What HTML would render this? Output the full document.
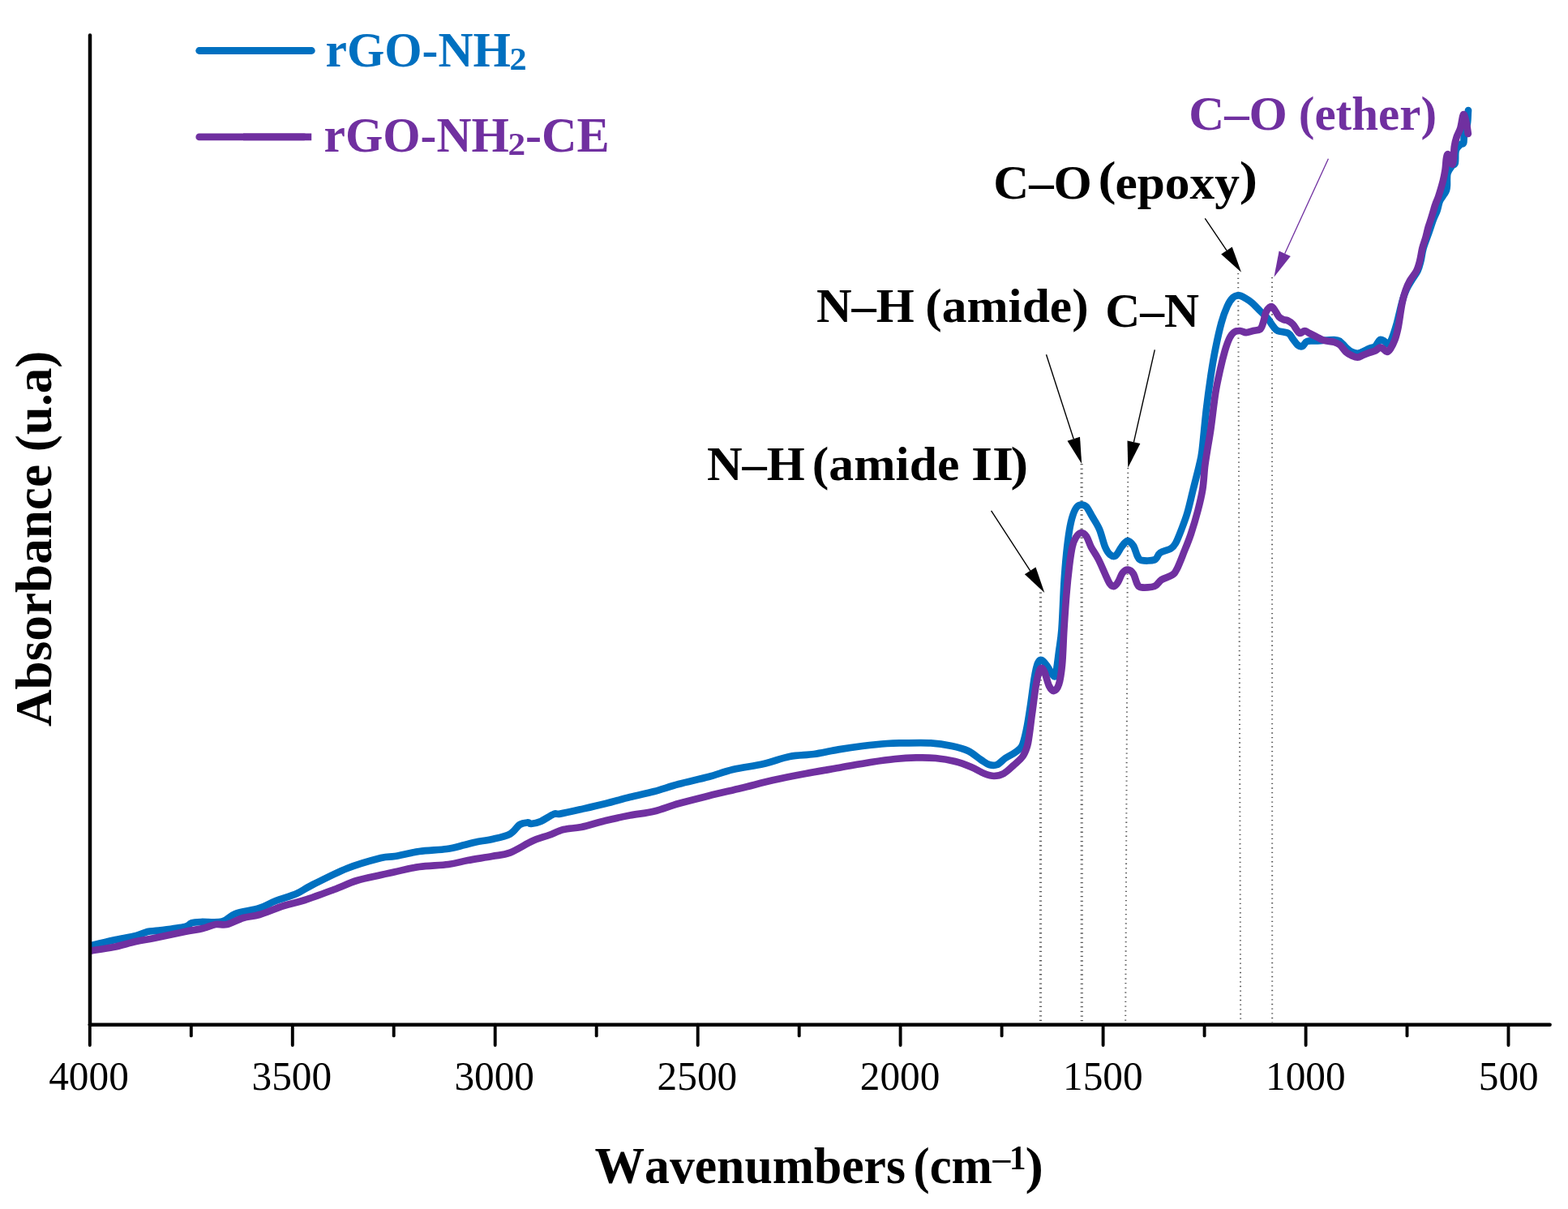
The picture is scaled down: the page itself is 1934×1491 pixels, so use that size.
<!DOCTYPE html>
<html lang="en"><head><meta charset="utf-8"><title>FTIR spectra</title>
<style>
html,body{margin:0;padding:0;background:#fff;}
body{width:1934px;height:1491px;overflow:hidden;}
svg{display:block;}
text{font-family:"Liberation Serif",serif;font-kerning:none;white-space:pre;}
</style></head><body>
<svg width="1934" height="1491" viewBox="0 0 1934 1491">
<rect width="1934" height="1491" fill="#fff"/>

<g stroke="#5a5a5a" fill="none" stroke-dasharray="1.3 4.37">
<line x1="1283.5" y1="730.5" x2="1283.5" y2="1261" stroke-width="3.2"/>
<line x1="1334.1" y1="572" x2="1334.3" y2="1261" stroke-width="3.2"/>
<line x1="1391.3" y1="577" x2="1388.2" y2="1261" stroke-width="2.0"/>
<line x1="1527.2" y1="337" x2="1530.2" y2="1261" stroke-width="2.0"/>
<line x1="1569.0" y1="342" x2="1569.2" y2="1261" stroke-width="2.0"/>
</g>
<clipPath id="plot"><rect x="110.8" y="0" width="1830" height="1262"/></clipPath>
<g clip-path="url(#plot)">
<path d="M110.8,1166.5C111.2,1166.4 108.1,1167.2 113.0,1166.0C117.9,1164.8 130.8,1161.6 140.0,1159.6C149.2,1157.6 161.0,1155.8 168.0,1154.0C175.0,1152.2 177.3,1150.1 182.0,1149.0C186.7,1147.9 188.3,1148.6 196.0,1147.6C203.7,1146.6 221.3,1144.5 228.0,1143.0C234.7,1141.5 232.7,1139.4 236.0,1138.4C239.3,1137.4 241.7,1137.3 248.0,1137.0C254.3,1136.7 267.0,1138.3 274.0,1136.6C281.0,1134.9 282.3,1129.8 290.0,1127.0C297.7,1124.2 311.7,1122.7 320.0,1120.0C328.3,1117.3 332.3,1114.0 340.0,1111.0C347.7,1108.0 358.7,1105.2 366.0,1102.0C373.3,1098.8 373.7,1097.2 384.0,1092.0C394.3,1086.8 413.7,1076.7 428.0,1071.0C442.3,1065.3 460.2,1060.5 470.0,1058.0C479.8,1055.5 479.2,1057.3 487.0,1056.0C494.8,1054.7 506.3,1051.5 517.0,1050.0C527.7,1048.5 541.7,1048.3 551.0,1047.0C560.3,1045.7 567.0,1043.4 573.0,1042.0C579.0,1040.6 581.3,1039.6 587.0,1038.4C592.7,1037.2 600.0,1036.6 607.0,1035.0C614.0,1033.4 623.3,1031.6 629.0,1028.6C634.7,1025.6 637.3,1019.4 641.0,1017.0C644.7,1014.6 648.7,1014.6 651.0,1014.4C653.3,1014.2 652.3,1016.2 655.0,1016.0C657.7,1015.8 662.3,1015.0 667.0,1013.0C671.7,1011.0 679.0,1005.6 683.0,1004.0C687.0,1002.4 685.3,1004.6 691.0,1003.6C696.7,1002.6 707.7,1000.1 717.0,998.0C726.3,995.9 737.0,993.5 747.0,991.0C757.0,988.5 767.0,985.5 777.0,983.0C787.0,980.5 797.0,978.7 807.0,976.0C817.0,973.3 825.8,970.0 837.0,967.0C848.2,964.0 862.8,961.0 874.0,958.0C885.2,955.0 892.7,951.7 904.0,949.0C915.3,946.3 930.3,944.7 942.0,942.0C953.7,939.3 963.7,935.0 974.0,933.0C984.3,931.0 994.0,931.4 1004.0,930.0C1014.0,928.6 1024.0,926.1 1034.0,924.4C1044.0,922.7 1054.0,921.2 1064.0,920.0C1074.0,918.8 1085.7,917.6 1094.0,917.0C1102.3,916.4 1105.0,916.5 1114.0,916.4C1123.0,916.3 1138.0,915.8 1148.0,916.4C1158.0,917.0 1166.3,918.4 1174.0,920.0C1181.7,921.6 1188.0,923.2 1194.0,926.0C1200.0,928.8 1205.7,934.2 1210.0,937.0C1214.3,939.8 1216.7,942.0 1220.0,943.0C1223.3,944.0 1226.7,944.3 1230.0,943.0C1233.3,941.7 1236.3,937.5 1240.0,935.0C1243.7,932.5 1248.6,930.5 1252.0,928.0C1255.4,925.5 1258.2,924.7 1260.5,920.0C1262.8,915.3 1264.2,908.3 1266.0,900.0C1267.8,891.7 1269.4,880.7 1271.0,870.0C1272.6,859.3 1274.3,844.7 1275.8,836.0C1277.3,827.3 1278.5,821.7 1280.0,818.0C1281.5,814.3 1283.0,813.3 1285.0,814.0C1287.0,814.7 1289.8,819.0 1292.0,822.0C1294.2,825.0 1296.3,830.3 1298.0,832.0C1299.7,833.7 1300.7,836.7 1302.0,832.0C1303.3,827.3 1304.8,813.3 1306.0,804.0C1307.2,794.7 1308.4,790.1 1309.5,776.0C1310.6,761.9 1311.4,734.8 1312.4,719.3C1313.4,703.8 1314.2,693.9 1315.3,683.0C1316.4,672.1 1317.7,662.0 1319.0,654.0C1320.3,646.0 1321.7,640.1 1323.3,635.3C1324.9,630.5 1326.6,627.1 1328.4,625.0C1330.2,622.9 1332.1,622.6 1334.0,622.6C1335.9,622.6 1337.8,622.6 1340.0,625.0C1342.2,627.4 1344.3,632.2 1347.0,636.8C1349.7,641.4 1353.3,646.4 1356.0,652.7C1358.7,659.0 1360.8,669.2 1363.0,674.4C1365.2,679.6 1366.8,682.0 1369.0,683.8C1371.2,685.6 1373.6,686.9 1376.0,685.3C1378.4,683.7 1381.0,677.4 1383.4,674.4C1385.8,671.4 1388.2,667.4 1390.6,667.2C1393.0,667.0 1395.8,669.9 1397.9,673.0C1400.0,676.1 1401.3,683.0 1403.0,686.0C1404.7,689.0 1404.5,690.3 1408.0,691.0C1411.5,691.7 1420.2,691.9 1424.0,690.4C1427.8,688.9 1427.7,684.0 1431.0,681.7C1434.3,679.4 1440.8,678.6 1444.0,676.6C1447.2,674.6 1447.8,674.0 1450.0,670.0C1452.2,666.0 1454.9,659.0 1457.3,652.7C1459.7,646.4 1462.1,640.6 1464.5,632.4C1466.9,624.2 1469.3,613.1 1471.7,603.5C1474.1,593.9 1477.2,582.4 1479.0,574.5C1480.8,566.6 1481.1,567.3 1482.6,556.0C1484.0,544.7 1485.9,522.1 1487.7,506.6C1489.5,491.1 1491.6,475.8 1493.5,463.0C1495.4,450.2 1497.0,440.6 1499.2,429.8C1501.4,419.0 1504.1,406.7 1506.5,398.0C1508.9,389.3 1511.3,382.9 1513.7,377.7C1516.1,372.5 1518.6,369.0 1521.0,366.8C1523.4,364.6 1525.8,364.2 1528.2,364.3C1530.6,364.4 1532.9,366.0 1535.5,367.5C1538.1,369.0 1540.9,370.6 1544.0,373.3C1547.1,376.0 1551.1,380.4 1554.3,383.5C1557.5,386.6 1560.3,388.9 1563.0,392.0C1565.7,395.1 1568.0,399.6 1570.2,402.3C1572.4,405.0 1572.9,406.6 1576.0,408.0C1579.1,409.4 1585.9,409.3 1589.0,411.0C1592.1,412.7 1592.9,415.8 1594.8,418.2C1596.7,420.6 1598.7,424.0 1600.6,425.5C1602.5,427.0 1604.5,427.8 1606.4,427.0C1608.3,426.2 1609.3,422.1 1612.2,421.0C1615.1,419.9 1618.2,420.7 1623.8,420.4C1629.3,420.1 1640.7,418.9 1645.5,419.0C1650.3,419.1 1650.4,419.4 1652.8,421.0C1655.2,422.6 1657.6,426.2 1660.0,428.4C1662.4,430.6 1664.6,432.8 1667.3,434.0C1670.0,435.2 1672.4,436.3 1676.0,435.6C1679.6,434.9 1685.6,431.2 1689.0,429.8C1692.4,428.4 1694.0,428.8 1696.2,427.0C1698.4,425.2 1700.1,420.0 1702.0,419.0C1703.9,418.0 1706.1,420.1 1707.8,421.0C1709.5,421.9 1710.8,425.2 1712.2,424.7C1713.7,424.2 1714.8,422.2 1716.5,418.2C1718.2,414.2 1720.6,406.6 1722.3,400.8C1724.0,395.0 1725.2,389.0 1726.6,383.5C1728.0,378.0 1729.2,372.5 1730.6,368.0C1732.0,363.5 1733.3,360.2 1735.0,356.5C1736.7,352.8 1738.7,349.8 1741.0,346.0C1743.3,342.2 1746.7,338.1 1748.6,334.0C1750.5,329.9 1751.3,326.1 1752.5,321.4C1753.7,316.7 1753.9,311.8 1755.6,306.0C1757.3,300.2 1760.4,292.6 1762.5,286.6C1764.6,280.6 1766.5,274.4 1768.2,270.0C1769.9,265.6 1771.2,263.7 1772.5,260.0C1773.8,256.3 1774.4,251.3 1775.8,248.0C1777.2,244.7 1779.6,242.2 1781.0,240.0C1782.4,237.8 1783.3,236.5 1784.0,234.5C1784.7,232.5 1784.7,231.4 1784.9,228.0C1785.1,224.6 1784.4,217.8 1785.4,213.9C1786.4,210.0 1789.4,206.7 1791.0,204.5C1792.6,202.3 1794.0,203.9 1794.8,200.8C1795.6,197.7 1794.6,189.5 1795.7,185.7C1796.8,181.9 1799.8,179.8 1801.4,178.2C1803.0,176.6 1804.3,178.2 1805.1,176.3C1805.9,174.4 1805.2,170.9 1806.0,167.0C1806.8,163.1 1809.0,157.6 1809.8,152.9C1810.6,148.2 1810.6,141.6 1810.8,138.8C1811.0,136.0 1811.0,136.5 1811.0,136.0" fill="none" stroke="#0070C0" stroke-width="8.7" stroke-linejoin="round" stroke-linecap="round"/>
<path d="M110.8,1172.8C111.2,1172.7 108.1,1173.2 113.0,1172.4C117.9,1171.6 130.8,1169.9 140.0,1168.0C149.2,1166.1 159.7,1162.8 168.0,1161.0C176.3,1159.2 180.0,1159.0 190.0,1157.0C200.0,1155.0 218.0,1151.0 228.0,1149.0C238.0,1147.0 243.7,1146.5 250.0,1145.0C256.3,1143.5 261.0,1140.8 266.0,1140.0C271.0,1139.2 274.3,1141.3 280.0,1140.0C285.7,1138.7 293.3,1134.0 300.0,1132.0C306.7,1130.0 311.7,1130.5 320.0,1128.0C328.3,1125.5 340.7,1120.0 350.0,1117.0C359.3,1114.0 365.7,1113.3 376.0,1110.0C386.3,1106.7 401.3,1101.0 412.0,1097.0C422.7,1093.0 430.3,1089.0 440.0,1086.0C449.7,1083.0 462.2,1080.8 470.0,1079.0C477.8,1077.2 479.2,1077.0 487.0,1075.3C494.8,1073.6 506.0,1070.5 517.0,1069.0C528.0,1067.5 543.0,1067.3 553.0,1066.0C563.0,1064.7 568.0,1062.7 577.0,1061.0C586.0,1059.3 598.3,1057.6 607.0,1056.0C615.7,1054.4 620.7,1054.8 629.0,1051.6C637.3,1048.4 649.0,1040.6 657.0,1037.0C665.0,1033.4 670.7,1032.3 677.0,1030.0C683.3,1027.7 688.3,1024.7 695.0,1023.0C701.7,1021.3 708.3,1021.8 717.0,1020.0C725.7,1018.2 737.0,1014.4 747.0,1012.0C757.0,1009.6 767.0,1007.5 777.0,1005.6C787.0,1003.7 797.0,1002.8 807.0,1000.4C817.0,998.0 825.8,994.1 837.0,991.0C848.2,987.9 861.2,984.7 874.0,981.5C886.8,978.3 900.7,975.2 914.0,972.0C927.3,968.8 940.7,965.0 954.0,962.0C967.3,959.0 980.7,956.5 994.0,954.0C1007.3,951.5 1020.7,949.3 1034.0,947.0C1047.3,944.7 1062.3,941.8 1074.0,940.0C1085.7,938.2 1094.7,936.9 1104.0,936.0C1113.3,935.1 1121.7,934.6 1130.0,934.4C1138.3,934.2 1146.0,934.2 1154.0,935.0C1162.0,935.8 1170.7,937.2 1178.0,939.0C1185.3,940.8 1192.0,943.5 1198.0,946.0C1204.0,948.5 1209.3,952.2 1214.0,954.0C1218.7,955.8 1222.0,957.0 1226.0,957.0C1230.0,957.0 1234.0,956.2 1238.0,954.0C1242.0,951.8 1246.0,947.7 1250.0,944.0C1254.0,940.3 1259.0,936.7 1262.0,932.0C1265.0,927.3 1266.2,924.7 1268.0,916.0C1269.8,907.3 1271.3,892.0 1273.0,880.0C1274.7,868.0 1276.3,853.2 1278.0,844.0C1279.7,834.8 1281.3,827.7 1283.0,825.0C1284.7,822.3 1286.2,824.5 1288.0,828.0C1289.8,831.5 1292.0,842.0 1294.0,846.0C1296.0,850.0 1298.0,852.3 1300.0,852.0C1302.0,851.7 1304.3,849.3 1306.0,844.0C1307.7,838.7 1308.9,831.3 1310.0,820.0C1311.1,808.7 1311.5,790.4 1312.4,776.0C1313.3,761.6 1314.2,746.9 1315.3,733.8C1316.4,720.7 1317.8,707.5 1319.0,697.6C1320.2,687.7 1321.3,680.2 1322.6,674.4C1323.9,668.6 1325.2,665.7 1327.0,662.8C1328.8,659.9 1331.2,657.2 1333.4,657.0C1335.6,656.8 1338.0,658.5 1340.0,661.4C1342.0,664.3 1343.3,669.8 1345.7,674.4C1348.1,679.0 1351.5,683.5 1354.4,689.0C1357.3,694.5 1360.6,702.5 1363.0,707.7C1365.4,712.9 1367.2,717.5 1369.0,720.0C1370.8,722.5 1372.3,723.4 1374.0,723.0C1375.7,722.6 1377.2,720.7 1379.0,717.9C1380.8,715.1 1382.7,708.8 1384.8,706.3C1386.9,703.8 1389.2,702.5 1391.4,702.7C1393.6,702.9 1396.0,704.7 1397.9,707.7C1399.8,710.7 1401.3,718.0 1403.0,720.8C1404.7,723.6 1404.5,724.0 1408.0,724.4C1411.5,724.8 1419.9,724.6 1424.0,723.0C1428.1,721.4 1429.0,717.3 1432.6,715.0C1436.2,712.7 1442.5,711.4 1445.7,709.2C1448.9,707.0 1449.1,706.6 1451.5,702.0C1453.9,697.4 1457.1,689.0 1460.0,681.7C1462.9,674.5 1466.0,667.2 1468.9,658.5C1471.8,649.8 1475.1,638.7 1477.5,629.5C1479.9,620.3 1481.8,612.7 1483.3,603.5C1484.8,594.3 1485.2,582.4 1486.2,574.5C1487.2,566.6 1487.8,563.7 1489.0,556.0C1490.2,548.3 1491.8,540.2 1493.5,528.3C1495.2,516.4 1497.3,496.9 1499.2,484.8C1501.1,472.7 1503.1,464.6 1505.0,455.9C1506.9,447.2 1508.9,439.2 1510.8,432.7C1512.7,426.2 1514.7,420.7 1516.6,416.8C1518.5,412.9 1520.2,411.0 1522.4,409.5C1524.6,408.0 1527.3,407.9 1529.7,408.0C1532.1,408.1 1534.3,410.2 1537.0,410.2C1539.7,410.2 1542.7,408.7 1545.6,408.0C1548.5,407.3 1552.2,407.7 1554.3,406.0C1556.4,404.3 1556.8,401.5 1558.0,398.0C1559.2,394.5 1560.2,388.2 1561.5,385.0C1562.8,381.8 1564.6,380.0 1565.9,379.0C1567.2,378.0 1568.3,378.1 1569.5,378.8C1570.7,379.6 1571.7,381.5 1573.0,383.5C1574.3,385.5 1575.8,388.9 1577.5,390.7C1579.2,392.5 1581.6,393.6 1583.3,394.3C1585.0,395.0 1585.7,394.1 1587.6,395.0C1589.5,395.9 1592.9,398.1 1594.8,400.0C1596.7,401.9 1597.8,404.8 1599.2,406.6C1600.7,408.4 1601.8,410.8 1603.5,411.0C1605.2,411.2 1607.4,408.0 1609.3,408.0C1611.2,408.0 1612.6,409.8 1615.0,411.0C1617.4,412.2 1620.9,413.9 1623.8,415.3C1626.7,416.8 1628.9,418.6 1632.5,419.7C1636.1,420.8 1642.1,420.8 1645.5,421.8C1648.9,422.8 1650.4,423.5 1652.8,425.5C1655.2,427.5 1657.6,431.8 1660.0,434.0C1662.4,436.2 1664.9,437.4 1667.3,438.5C1669.7,439.6 1672.1,440.8 1674.5,440.7C1676.9,440.6 1679.3,438.8 1681.7,437.8C1684.1,436.8 1686.6,435.8 1689.0,434.9C1691.4,434.0 1694.0,433.8 1696.2,432.7C1698.4,431.6 1700.3,428.8 1702.0,428.4C1703.7,428.0 1705.0,429.6 1706.4,430.5C1707.9,431.4 1709.2,434.1 1710.7,434.0C1712.2,433.9 1713.5,432.4 1715.1,430.0C1716.7,427.6 1718.7,423.9 1720.3,419.6C1721.9,415.3 1723.4,409.2 1724.5,404.0C1725.6,398.8 1726.2,393.8 1727.0,388.6C1727.8,383.4 1728.5,378.2 1729.6,373.0C1730.7,367.8 1732.2,362.1 1733.8,357.6C1735.4,353.1 1736.8,350.2 1739.0,346.2C1741.2,342.2 1745.2,337.9 1747.2,333.8C1749.2,329.7 1750.1,326.0 1751.3,321.4C1752.5,316.8 1753.2,310.7 1754.4,305.9C1755.6,301.1 1757.4,296.7 1758.6,292.4C1759.8,288.1 1760.6,283.7 1761.7,280.0C1762.8,276.3 1764.0,273.3 1765.0,270.0C1766.0,266.7 1767.1,263.1 1768.0,260.0C1768.9,256.9 1769.5,254.5 1770.6,251.5C1771.6,248.5 1772.8,246.8 1774.3,242.1C1775.8,237.4 1778.4,228.8 1779.8,223.3C1781.2,217.8 1781.9,213.9 1782.6,209.2C1783.3,204.5 1783.4,198.2 1784.0,195.1C1784.6,192.0 1785.1,189.2 1786.3,190.4C1787.5,191.7 1789.9,201.8 1791.0,202.6C1792.1,203.4 1792.4,198.7 1792.9,195.1C1793.4,191.5 1793.2,185.4 1793.8,181.0C1794.4,176.6 1795.4,172.7 1796.7,168.8C1798.0,164.9 1800.2,161.8 1801.4,157.6C1802.7,153.4 1803.4,146.1 1804.2,143.5C1805.0,140.9 1805.2,140.4 1806.0,142.0C1806.8,143.6 1808.1,149.1 1808.9,152.9C1809.7,156.7 1810.5,163.0 1810.8,165.0" fill="none" stroke="#7030A0" stroke-width="8.7" stroke-linejoin="round" stroke-linecap="round"/>
</g>
<g stroke="#000" stroke-width="4.5" fill="none" stroke-linecap="round">
<path d="M111.0,43.5V1263.8"/>
<path d="M110.8,1263.8H1911.6"/>
</g>
<g stroke="#000" stroke-width="3.9" fill="none" stroke-linecap="round">
<line x1="110.8" y1="1263.8" x2="110.8" y2="1289.0"/>
<line x1="235.8" y1="1263.8" x2="235.8" y2="1277.4"/>
<line x1="360.8" y1="1263.8" x2="360.8" y2="1289.0"/>
<line x1="485.7" y1="1263.8" x2="485.7" y2="1277.4"/>
<line x1="610.7" y1="1263.8" x2="610.7" y2="1289.0"/>
<line x1="735.7" y1="1263.8" x2="735.7" y2="1277.4"/>
<line x1="860.7" y1="1263.8" x2="860.7" y2="1289.0"/>
<line x1="985.7" y1="1263.8" x2="985.7" y2="1277.4"/>
<line x1="1110.6" y1="1263.8" x2="1110.6" y2="1289.0"/>
<line x1="1235.6" y1="1263.8" x2="1235.6" y2="1277.4"/>
<line x1="1360.6" y1="1263.8" x2="1360.6" y2="1289.0"/>
<line x1="1485.6" y1="1263.8" x2="1485.6" y2="1277.4"/>
<line x1="1610.6" y1="1263.8" x2="1610.6" y2="1289.0"/>
<line x1="1735.5" y1="1263.8" x2="1735.5" y2="1277.4"/>
<line x1="1860.5" y1="1263.8" x2="1860.5" y2="1289.0"/>
</g>
<g font-size="49.3" text-anchor="middle" fill="#000" transform="translate(0,1344.1) scale(1,1.045)">
<text x="109.5" y="0">4000</text>
<text x="359.8" y="0">3500</text>
<text x="609.7" y="0">3000</text>
<text x="859.9" y="0">2500</text>
<text x="1110.1" y="0">2000</text>
<text x="1360.3" y="0">1500</text>
<text x="1610.3" y="0">1000</text>
<text x="1860.7" y="0">500</text>
</g>
<line x1="245.7" y1="62.5" x2="384.3" y2="62.5" stroke="#0070C0" stroke-width="8.8" stroke-linecap="round"/>
<line x1="245.7" y1="168.9" x2="375" y2="168.9" stroke="#7030A0" stroke-width="8.6" stroke-linecap="round"/>
<line x1="300" y1="168.9" x2="384.2" y2="168.9" stroke="#7030A0" stroke-width="8.6"/>
<text transform="translate(401.51,82.20) scale(0.9767,1)" font-size="61.0" font-weight="bold" fill="#0070C0">rGO-NH</text>
<text transform="translate(628.60,86.00) scale(1.0729,1)" font-size="39.5" font-weight="bold" fill="#0070C0">2</text>
<text transform="translate(399.51,187.20) scale(0.9767,1)" font-size="61.0" font-weight="bold" fill="#7030A0">rGO-NH</text>
<text transform="translate(626.57,191.00) scale(1.0970,1)" font-size="39.5" font-weight="bold" fill="#7030A0">2</text>
<text transform="translate(647.99,187.20) scale(0.9876,1)" font-size="61.0" font-weight="bold" fill="#7030A0">-CE</text>
<text transform="translate(1466.26,160.00) scale(1.0131,1)" font-size="60.0" font-weight="bold" fill="#7030A0">C–O</text>
<text transform="translate(1601.74,160.00) scale(0.9834,1)" font-size="60.0" font-weight="bold" fill="#7030A0">(ether)</text>
<text transform="translate(1225.26,244.80) scale(1.0131,1)" font-size="60.0" font-weight="bold">C–O</text>
<text transform="translate(1354.46,240.30) scale(1.1006,1)" font-size="60.0" font-weight="bold">(</text>
<text transform="translate(1375.46,244.80) scale(1.0237,1)" font-size="60.0" font-weight="bold">epoxy</text>
<text transform="translate(1528.79,240.30) scale(1.1154,1)" font-size="60.0" font-weight="bold">)</text>
<text transform="translate(1006.99,396.80) scale(1.0068,1)" font-size="60.0" font-weight="bold">N–H</text>
<text transform="translate(1141.24,396.80) scale(1.0245,1)" font-size="60.0" font-weight="bold">(amide)</text>
<text transform="translate(1363.32,403.40) scale(0.9921,1)" font-size="60.0" font-weight="bold">C–N</text>
<text transform="translate(871.99,592.00) scale(1.0068,1)" font-size="60.0" font-weight="bold">N–H</text>
<text transform="translate(1001.83,592.00) scale(1.0278,1)" font-size="60.0" font-weight="bold">(amide</text>
<text transform="translate(1197.99,592.00) scale(1.1142,1)" font-size="60.0" font-weight="bold">II</text>
<text transform="translate(1246.55,592.00) scale(1.0833,1)" font-size="60.0" font-weight="bold">)</text>
<text transform="translate(733.48,1459.00) scale(0.9785,1)" font-size="63.0" font-weight="bold">Wavenumbers</text>
<text transform="translate(1126.58,1459.00) scale(0.9595,1)" font-size="63.0" font-weight="bold">(cm</text>
<text transform="translate(1221.80,1446.30) scale(1.1728,1)" font-size="41.0" font-weight="bold">−</text>
<text transform="translate(1244.91,1441.60) scale(0.9643,1)" font-size="42.6" font-weight="bold">1</text>
<text transform="translate(1264.48,1459.00) scale(1.0684,1)" font-size="63.0" font-weight="bold">)</text>
<text transform="translate(62.60,896.03) rotate(-90) scale(0.9875,1)" font-size="64.0" font-weight="bold">Absorbance (u.a)</text>
<line x1="1486.3" y1="269.3" x2="1513.0" y2="308.9" stroke="#000" stroke-width="1.4"/><polygon points="1531.0,335.7 1506.2,313.5 1519.7,304.4" fill="#000"/>
<line x1="1638.4" y1="195.7" x2="1584.7" y2="312.7" stroke="#7030A0" stroke-width="1.3"/><polygon points="1571.4,341.8 1577.6,309.5 1591.8,316.0" fill="#7030A0"/>
<line x1="1290.5" y1="437.3" x2="1324.2" y2="541.3" stroke="#000" stroke-width="1.4"/><polygon points="1334.2,572.0 1316.5,543.8 1332.0,538.8" fill="#000"/>
<line x1="1424.3" y1="431.3" x2="1398.4" y2="545.3" stroke="#000" stroke-width="1.4"/><polygon points="1391.3,576.8 1390.5,543.5 1406.4,547.1" fill="#000"/>
<line x1="1222.6" y1="629.9" x2="1270.7" y2="703.8" stroke="#000" stroke-width="1.4"/><polygon points="1288.3,730.9 1263.9,708.3 1277.5,699.4" fill="#000"/>
</svg></body></html>
